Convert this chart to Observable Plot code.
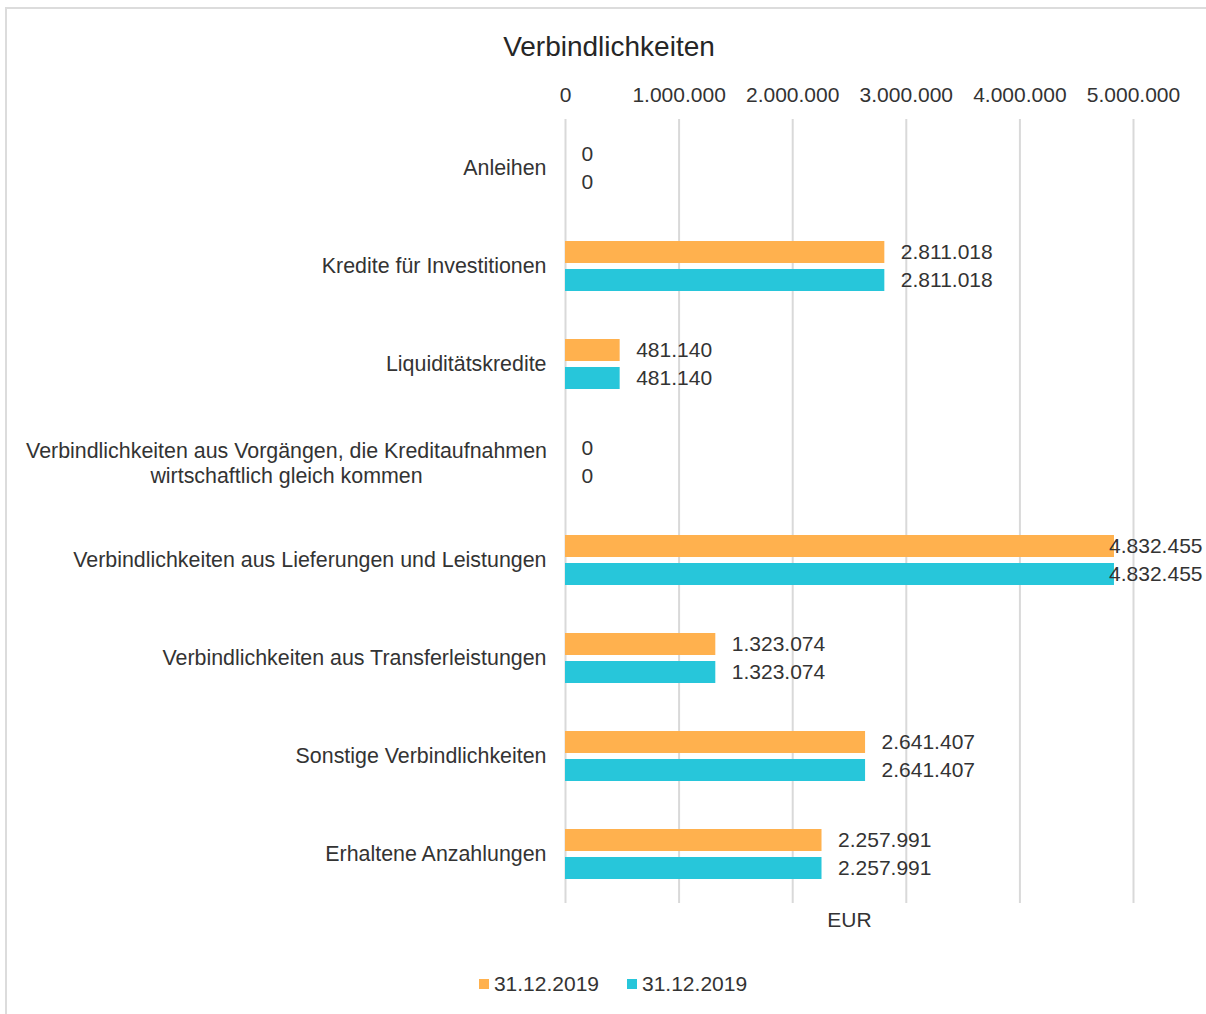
<!DOCTYPE html>
<html>
<head>
<meta charset="utf-8">
<script src="https://cdn.jsdelivr.net/npm/d3@7"></script>
<script src="https://cdn.jsdelivr.net/npm/@observablehq/plot@0.6"></script>
<style>
  html, body { margin: 0; padding: 0; background: #fff; }
  body { width: 1206px; height: 1014px; overflow: hidden; position: relative;
         font-family: "Liberation Sans", Arial, sans-serif; color: #333; }
  #frame { position: absolute; left: 5px; top: 7px; width: 1300px; height: 1100px;
           border-top: 2px solid #dcdcdc; border-left: 2px solid #dcdcdc; pointer-events: none; }
  #title { height: 70px; box-sizing: border-box; padding-top: 31px; padding-left: 12px;
           text-align: center; font-size: 28px; line-height: 32px; color: #262626; }
  #legend { margin-top: 32px; height: 24px; display: flex; justify-content: center; align-items: center;
            gap: 28px; font-size: 21px; color: #333; padding-left: 20px; }
  .item { display: flex; align-items: center; gap: 5px; }
  .sw { width: 10px; height: 10px; display: inline-block; }
  svg { display: block; }
</style>
</head>
<body>
<div id="frame"></div>
<div id="title"></div>
<div id="chart"></div>
<div id="legend"></div>
<script>
const title = "Verbindlichkeiten";
const categories = [
  "Anleihen",
  "Kredite für Investitionen",
  "Liquiditätskredite",
  "Verbindlichkeiten aus Vorgängen, die Kreditaufnahmen\nwirtschaftlich gleich kommen",
  "Verbindlichkeiten aus Lieferungen und Leistungen",
  "Verbindlichkeiten aus Transferleistungen",
  "Sonstige Verbindlichkeiten",
  "Erhaltene Anzahlungen"
];
const seriesA = [0, 2811018, 481140, 0, 4832455, 1323074, 2641407, 2257991];
const seriesB = [0, 2811018, 481140, 0, 4832455, 1323074, 2641407, 2257991];
const seriesNames = ["31.12.2019", "31.12.2019"];
const seriesKeys = ["s1", "s2"];
const colors = ["#FFB14E", "#27C6DA"];
const xTicks = [0, 1000000, 2000000, 3000000, 4000000, 5000000];
const unitLabel = "EUR";

const de = d3.formatLocale({decimal: ",", thousands: ".", grouping: [3], currency: ["", " €"]});
const fmt = de.format(",d");

const data = categories.flatMap((c, i) => [
  {cat: c, key: seriesKeys[0], value: seriesA[i]},
  {cat: c, key: seriesKeys[1], value: seriesB[i]}
]);
const multiLine = categories.filter(c => c.includes("\n"));
const singleLine = categories.filter(c => !c.includes("\n"));
const lastCat = categories[categories.length - 1];
const font = 21;
const catFont = 21.4;

document.getElementById("title").textContent = title;

const chart = Plot.plot({
  width: 1206,
  height: 870,
  marginLeft: 565,
  marginRight: 73,
  marginTop: 49,
  marginBottom: 37,
  x: {domain: [0, 5000000]},
  y: {domain: seriesKeys, axis: null, paddingInner: 0.214, paddingOuter: 0.857},
  fy: {domain: categories, padding: 0, axis: null},
  color: {domain: seriesKeys, range: colors},
  style: {fontFamily: '"Liberation Sans", Arial, sans-serif', fontSize: font + "px", color: "#333", background: "transparent"},
  marks: [
    Plot.ruleX(xTicks, {stroke: "#d9d9d9", strokeWidth: 2}),
    Plot.barX(data, {x: "value", y: "key", fy: "cat", fill: "key"}),
    Plot.text(data.filter(d => d.value < 4500000), {
      x: "value", y: "key", fy: "cat", text: d => fmt(d.value),
      textAnchor: "start", dx: 16, fontSize: font, fill: "#333"
    }),
    Plot.text(data.filter(d => d.value >= 4500000), {
      frameAnchor: "right", y: "key", fy: "cat", text: d => fmt(d.value),
      textAnchor: "end", dx: 69, fontSize: font, fill: "#333"
    }),
    Plot.axisX({anchor: "top", ticks: xTicks, tickSize: 0, tickPadding: 18, tickFormat: fmt, label: null, fontSize: font, fill: "#333"}),
    Plot.axisFy({anchor: "left", ticks: singleLine, tickSize: 0, tickPadding: 19, label: null, fontSize: catFont, fill: "#333"}),
    Plot.text(multiLine, {fy: d => d, text: d => d, frameAnchor: "left", textAnchor: "middle", dx: -279, lineHeight: 1.17, fontSize: catFont, fill: "#333"}),
    Plot.text([{cat: lastCat, t: unitLabel}], {fy: "cat", text: "t", frameAnchor: "bottom", lineAnchor: "middle", dy: 17, fontSize: font, fill: "#333"})
  ]
});
document.getElementById("chart").appendChild(chart);

const legend = document.getElementById("legend");
seriesNames.forEach((name, i) => {
  const item = document.createElement("span");
  item.className = "item";
  const sw = document.createElement("span");
  sw.className = "sw";
  sw.style.background = colors[i];
  const t = document.createElement("span");
  t.textContent = name;
  item.appendChild(sw);
  item.appendChild(t);
  legend.appendChild(item);
});
</script>
</body>
</html>
